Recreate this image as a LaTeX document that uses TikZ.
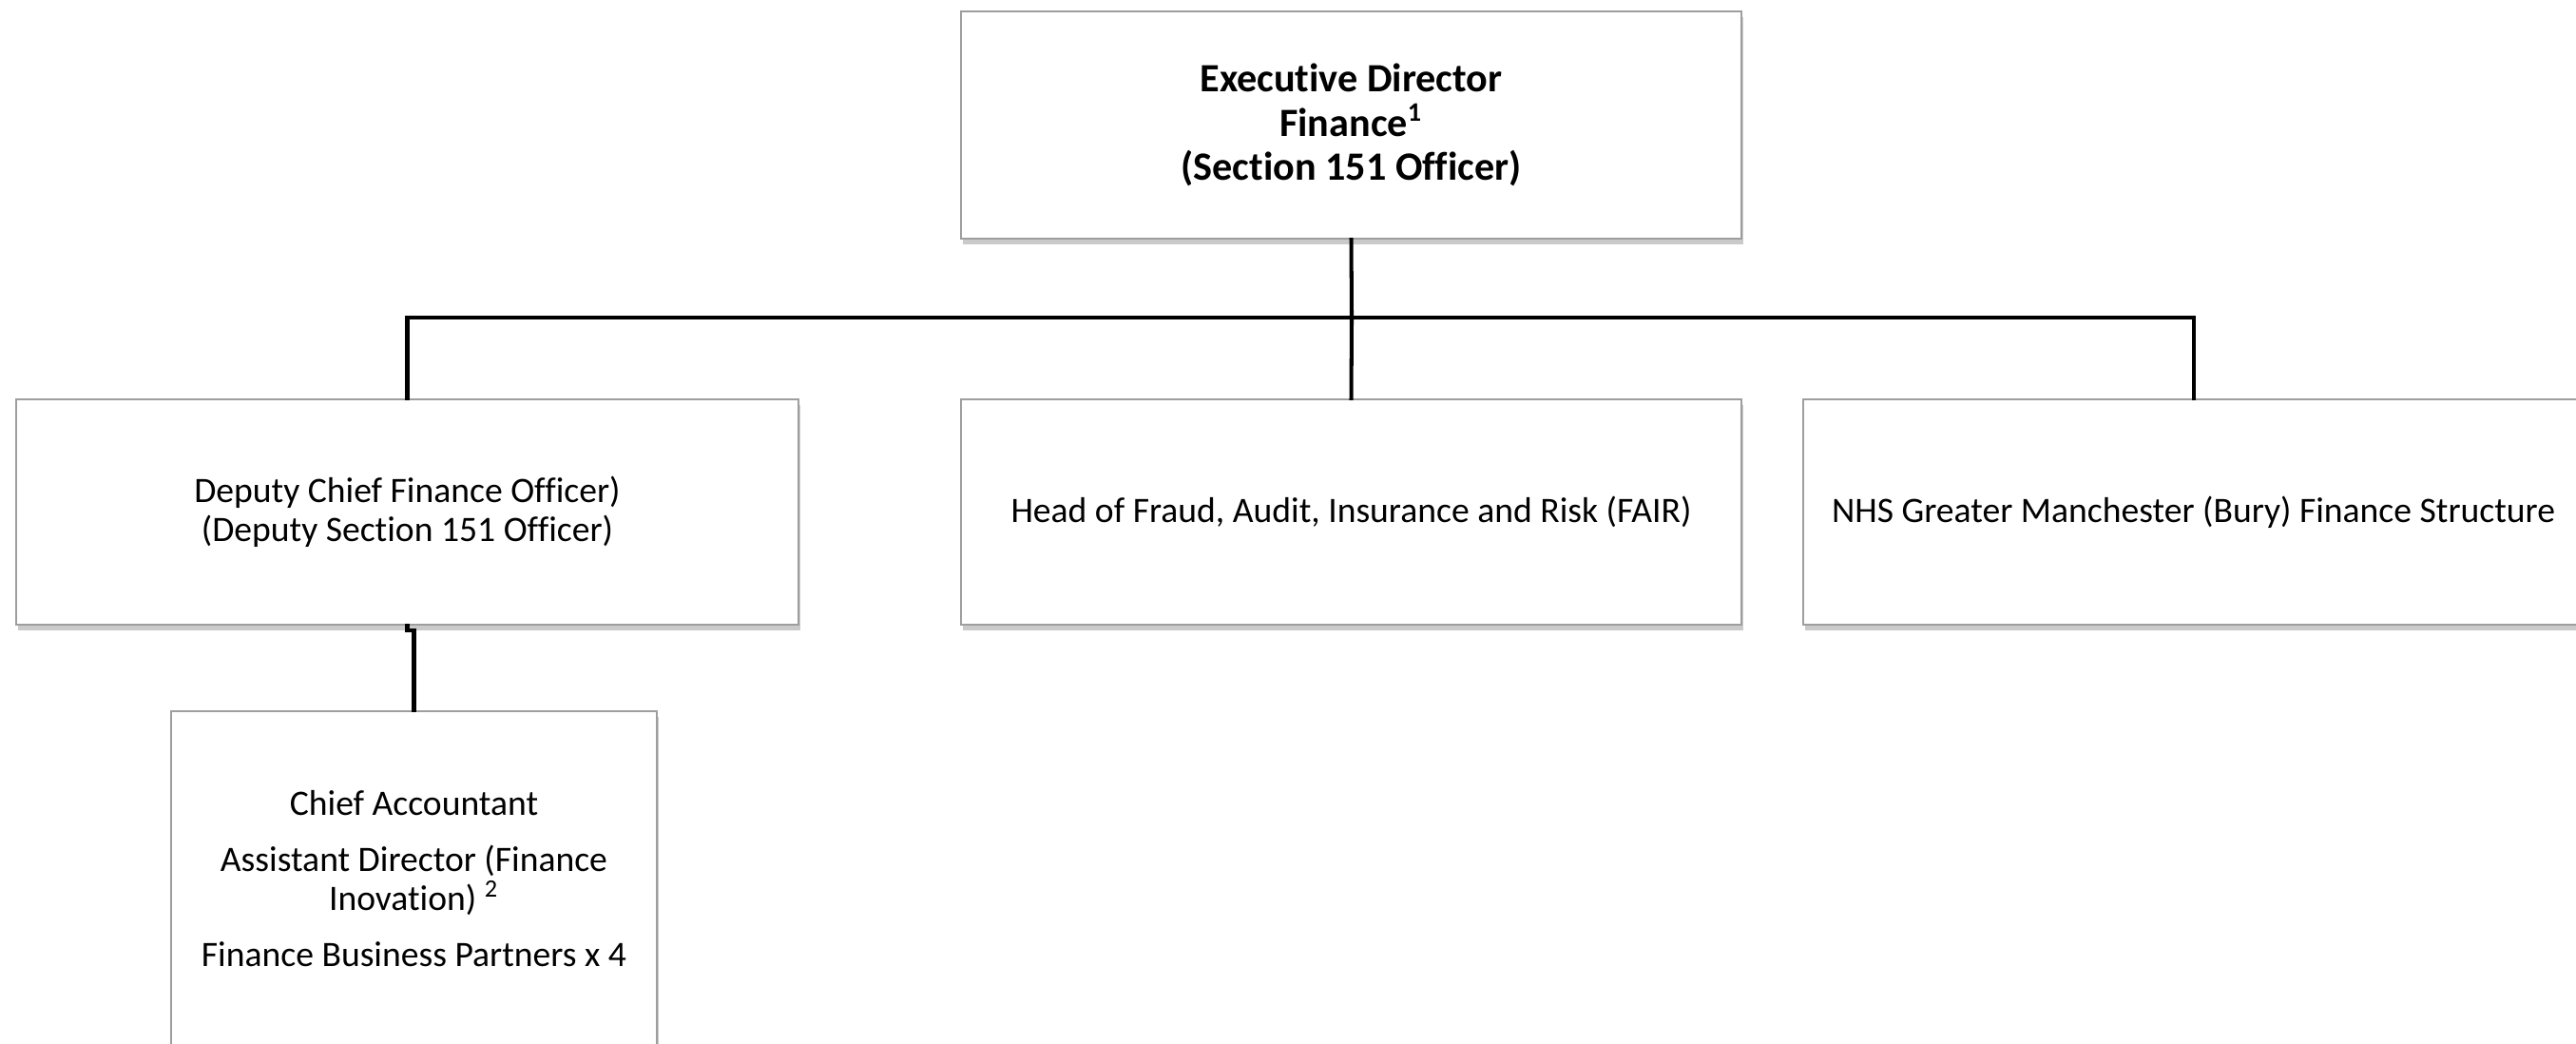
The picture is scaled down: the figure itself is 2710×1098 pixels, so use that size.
\documentclass[tikz,border=0pt]{standalone}
\usepackage{fontspec}
\setmainfont[Ligatures=NoCommon]{Carlito}
\usetikzlibrary{shadows}
\begin{document}
\begin{tikzpicture}[x=0.01cm,y=-0.01cm,
  box/.style={draw=black!38, line width=0.6pt, fill=white, align=center, inner sep=0pt,
    drop shadow={shadow xshift=0.6pt, shadow yshift=-1.6pt, opacity=0.35, fill=black!60},
    font=\fontsize{10.7}{11.8}\selectfont},
  conn/.style={line width=1.15pt, line cap=rect}]
\useasboundingbox (0,0) rectangle (2710,1098);
\clip (0,0) rectangle (2710,1098);
\node[box, minimum width=821*0.01cm, minimum height=239*0.01cm,
  font=\fontsize{12}{13.3}\selectfont\bfseries] (top) at (1421.5,131.5)
  {Executive Director\\Finance\textsuperscript{1}\\(Section 151 Officer)};
\node[box, minimum width=823*0.01cm, minimum height=237*0.01cm] (deputy) at (428.5,538.5)
  {Deputy Chief Finance Officer)\\(Deputy Section 151 Officer)};
\node[box, minimum width=821*0.01cm, minimum height=237*0.01cm] (fair) at (1421.5,538.5)
  {Head of Fraud, Audit, Insurance and Risk (FAIR)};
\node[box, minimum width=821*0.01cm, minimum height=237*0.01cm] (nhs) at (2307.5,538.5)
  {NHS Greater Manchester (Bury) Finance Structure};
\node[box, minimum width=511*0.01cm, minimum height=352*0.01cm] (chief) at (435.5,924)
  {Chief Accountant\\[4.9pt]Assistant Director (Finance\\Inovation) \textsuperscript{2}\\[4.9pt]Finance Business Partners x 4};
\coordinate (bus) at (1422,334);
\draw[conn] (top.south) -- (bus);
\draw[conn] (deputy.north) |- (bus) -| (nhs.north);
\draw[conn] (bus) -- (fair.north);
\draw[conn] (deputy.south) -- ++(0,5) -| (chief.north);
\end{tikzpicture}
\end{document}
